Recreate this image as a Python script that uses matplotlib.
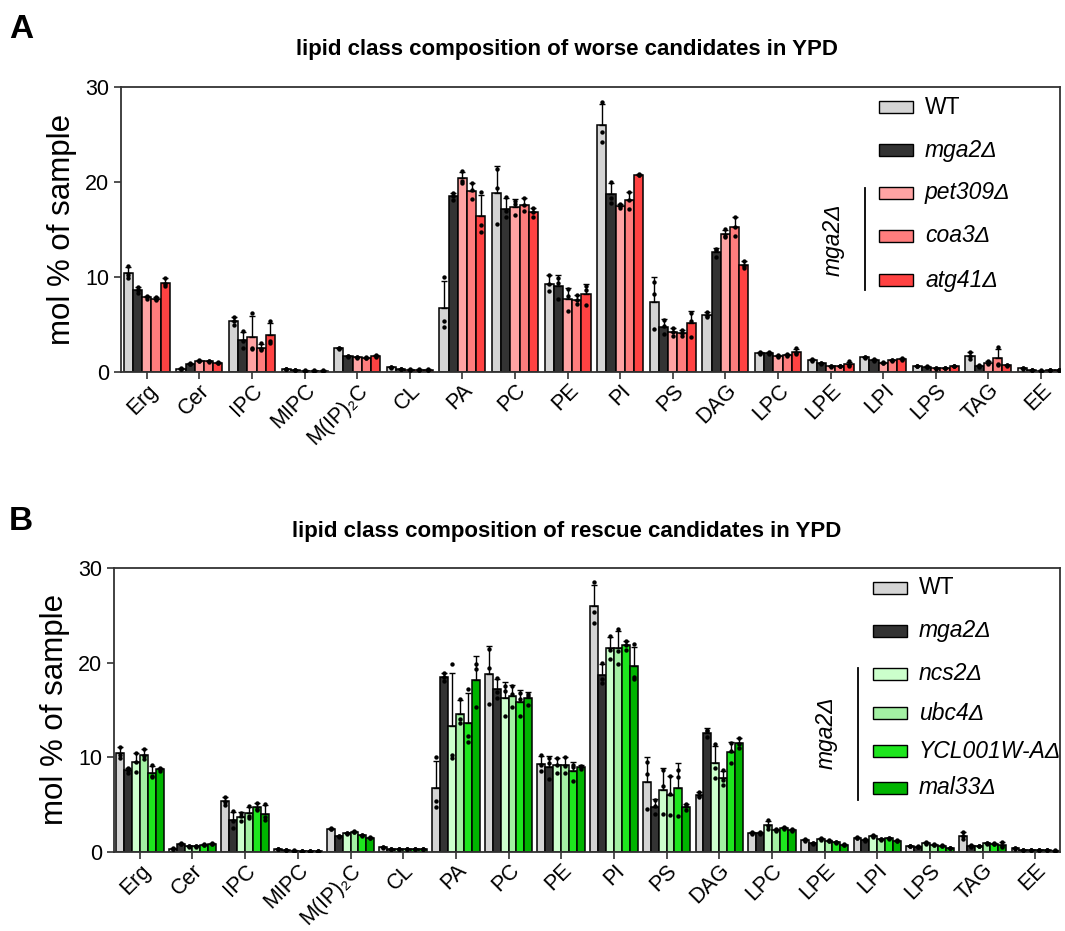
import numpy as np
import matplotlib
matplotlib.use("Agg")
import matplotlib.pyplot as plt
from matplotlib.patches import Rectangle
from matplotlib.lines import Line2D

plt.rcParams['font.family'] = ['Liberation Sans', 'DejaVu Sans']

lipid_classes = ['Erg', 'Cer', 'IPC', 'MIPC', 'M(IP)\u2082C', 'CL', 'PA', 'PC', 'PE',
                 'PI', 'PS', 'DAG', 'LPC', 'LPE', 'LPI', 'LPS', 'TAG', 'EE']

# mol % of sample, three replicates per lipid class (same order as lipid_classes)
wt = [[11.1, 10.2, 9.9], [0.35, 0.3, 0.28], [5.8, 5.3, 4.95], [0.32, 0.3, 0.28],
      [2.55, 2.45, 2.35], [0.48, 0.45, 0.42], [10.0, 5.4, 4.7], [21.4, 19.4, 15.6],
      [10.2, 9.2, 8.5], [28.5, 25.3, 24.2], [9.5, 8.2, 4.5], [6.3, 5.9, 5.8],
      [2.1, 2.0, 1.9], [1.3, 1.2, 1.1], [1.6, 1.5, 1.4], [0.65, 0.6, 0.55],
      [2.1, 1.7, 1.3], [0.38, 0.35, 0.32]]
mga2 = [[8.9, 8.6, 8.3], [0.9, 0.85, 0.8], [4.3, 3.2, 2.55], [0.16, 0.15, 0.14],
        [1.7, 1.65, 1.6], [0.3, 0.28, 0.26], [18.9, 18.5, 18.1], [18.4, 16.9, 16.3],
        [9.9, 9.4, 7.7], [20.0, 18.3, 17.8], [5.5, 4.8, 3.95], [12.9, 12.8, 12.1],
        [2.05, 1.95, 1.85], [0.95, 0.9, 0.85], [1.3, 1.2, 1.1], [0.55, 0.5, 0.45],
        [0.7, 0.6, 0.5], [0.22, 0.2, 0.18]]

# worse candidates (mga2 background)
pet309 = [[8.0, 7.85, 7.7], [1.2, 1.15, 1.1], [6.2, 2.5, 2.4], [0.13, 0.12, 0.11],
          [1.55, 1.5, 1.45], [0.24, 0.22, 0.2], [21.2, 20.1, 19.9], [18.0, 17.7, 16.5],
          [8.7, 8.0, 6.4], [17.7, 17.5, 17.3], [4.6, 4.2, 3.8], [15.0, 14.3, 14.2],
          [1.75, 1.65, 1.55], [0.6, 0.55, 0.5], [1.0, 0.95, 0.9], [0.38, 0.35, 0.32],
          [1.1, 0.95, 0.8], [0.13, 0.12, 0.11]]
coa3 = [[7.85, 7.7, 7.55], [1.15, 1.1, 1.05], [3.0, 2.4, 2.25], [0.13, 0.12, 0.11],
        [1.5, 1.45, 1.4], [0.24, 0.22, 0.2], [19.9, 19.2, 18.2], [18.3, 17.6, 16.9],
        [8.1, 7.6, 7.1], [19.0, 18.1, 17.2], [4.4, 4.1, 3.8], [16.3, 15.3, 14.3],
        [1.9, 1.8, 1.7], [0.65, 0.6, 0.55], [1.25, 1.2, 1.15], [0.43, 0.4, 0.37],
        [2.6, 0.85, 0.75], [0.16, 0.15, 0.14]]
atg41 = [[9.9, 9.3, 9.0], [1.0, 0.95, 0.9], [5.3, 3.2, 3.05], [0.13, 0.12, 0.11],
         [1.8, 1.7, 1.6], [0.24, 0.22, 0.2], [19.0, 15.5, 14.7], [17.3, 16.8, 16.3],
         [9.0, 8.6, 7.0], [20.9, 20.8, 20.7], [6.2, 5.4, 3.7], [11.7, 11.1, 10.95],
         [2.45, 2.0, 1.85], [1.1, 0.7, 0.6], [1.4, 1.3, 1.2], [0.65, 0.6, 0.55],
         [0.75, 0.7, 0.65], [0.16, 0.15, 0.14]]

# rescue candidates (mga2 background)
ncs2 = [[10.4, 9.5, 8.45], [0.6, 0.55, 0.5], [4.1, 3.8, 3.2], [0.13, 0.12, 0.11],
        [2.0, 1.95, 1.9], [0.32, 0.3, 0.28], [19.8, 10.2, 9.9], [17.5, 17.0, 14.4],
        [9.9, 9.2, 8.35], [22.8, 21.3, 20.4], [8.6, 6.9, 4.0], [11.4, 8.9, 7.75],
        [3.3, 2.7, 2.4], [1.4, 1.3, 1.2], [1.8, 1.7, 1.6], [1.0, 0.9, 0.8],
        [0.65, 0.6, 0.55], [0.16, 0.15, 0.14]]
ubc4 = [[10.9, 10.1, 9.75], [0.6, 0.55, 0.5], [4.8, 3.8, 3.55], [0.11, 0.1, 0.09],
        [2.15, 2.1, 2.05], [0.32, 0.3, 0.28], [16.2, 14.0, 13.6], [17.5, 16.7, 15.3],
        [10.0, 9.1, 8.35], [23.5, 21.2, 19.8], [8.0, 6.1, 3.9], [8.6, 7.6, 7.05],
        [2.4, 2.3, 2.2], [1.2, 1.15, 1.1], [1.35, 1.3, 1.25], [0.8, 0.75, 0.7],
        [0.95, 0.9, 0.85], [0.16, 0.15, 0.14]]
ycl001w_a = [[9.2, 8.0, 7.85], [0.8, 0.75, 0.7], [5.2, 4.5, 4.4], [0.11, 0.1, 0.09],
             [1.8, 1.75, 1.7], [0.32, 0.3, 0.28], [17.2, 12.2, 11.55], [16.8, 16.2, 14.4],
             [9.2, 8.95, 7.5], [22.3, 21.9, 21.35], [8.6, 7.9, 3.75], [11.5, 10.6, 9.4],
             [2.6, 2.5, 2.4], [1.05, 1.0, 0.95], [1.45, 1.4, 1.35], [0.7, 0.65, 0.6],
             [0.9, 0.85, 0.8], [0.16, 0.15, 0.14]]
mal33 = [[8.9, 8.7, 8.5], [0.9, 0.85, 0.8], [5.0, 3.7, 3.3], [0.11, 0.1, 0.09],
         [1.55, 1.5, 1.45], [0.32, 0.3, 0.28], [19.9, 19.3, 15.25], [16.7, 16.5, 15.55],
         [9.1, 9.0, 8.75], [22.0, 18.5, 18.3], [5.0, 4.85, 4.4], [12.0, 11.4, 10.95],
         [2.4, 2.3, 2.2], [0.8, 0.75, 0.7], [1.2, 1.15, 1.1], [0.43, 0.4, 0.37],
         [1.05, 0.6, 0.45], [0.13, 0.12, 0.11]]

strains_a = ['WT', 'mga2', 'pet309', 'coa3', 'atg41']
strains_b = ['WT', 'mga2', 'ncs2', 'ubc4', 'YCL001W-A', 'mal33']
colors_a = ['#d4d4d4', '#333333', '#ffa3a3', '#ff7d7d', '#ff4242']
colors_b = ['#d4d4d4', '#333333', '#ccffcc', '#a3f0a3', '#1ee61e', '#00b400']

W, H = 1065, 931
fig = plt.figure(figsize=(W / 100, H / 100), dpi=100)


def fig_xy(x, y):
    # pixel position (from top-left) -> figure fraction
    return x / W, 1 - y / H


def draw_panel(ax, series, colors, bar_w, xlim):
    n = len(series)
    idx = np.arange(len(lipid_classes))
    for j, (reps, col) in enumerate(zip(series, colors)):
        reps = np.array(reps)
        mean = reps.mean(axis=1)
        sd = reps.std(axis=1, ddof=1)
        xs = idx + (j - (n - 1) / 2) * bar_w
        ax.bar(xs, mean, width=bar_w, color=col, edgecolor='black', linewidth=1.1, zorder=2)
        ax.errorbar(xs, mean, yerr=[np.zeros_like(sd), sd], fmt='none', ecolor='black',
                    elinewidth=1.0, capsize=2.5, capthick=1.0, zorder=3)
        for k in range(reps.shape[1]):
            ax.scatter(xs, reps[:, k], s=10, color='black', zorder=4, linewidths=0)
    ax.set_xlim(*xlim)
    ax.set_ylim(0, 30)
    ax.set_yticks([0, 10, 20, 30])
    ax.set_xticks(idx)
    ax.set_xticklabels(lipid_classes, rotation=45, ha='right', rotation_mode='anchor')
    ax.tick_params(axis='both', labelsize=15.5, direction='out', length=5, width=1.2,
                   color='#333333')
    ax.tick_params(axis='x', pad=1, labelsize=15.5)
    for sp in ax.spines.values():
        sp.set_linewidth(1.3)
        sp.set_color('#333333')
    ax.set_ylabel('mol % of sample', fontsize=22.5, labelpad=6)


def draw_legend(labels, colors, ys, patch_x, text_x, bracket_x, bracket_y, group_y):
    for lab, col, y in zip(labels, colors, ys):
        x0, y0 = fig_xy(patch_x, y + 6)
        rw, rh = 34 / W, 12 / H
        fig.add_artist(Rectangle((x0, y0), rw, rh, transform=fig.transFigure,
                                 facecolor=col, edgecolor='black', linewidth=1.0))
        tx, ty = fig_xy(text_x, y)
        if lab == 'WT':
            fig.text(tx, ty, lab, fontsize=16.5, va='center', ha='left')
        else:
            fig.text(tx, ty, lab + '\u0394', fontsize=16.5, va='center', ha='left',
                     style='italic')
    bx, by0 = fig_xy(bracket_x, bracket_y[0])
    _, by1 = fig_xy(bracket_x, bracket_y[1])
    fig.add_artist(Line2D([bx, bx], [by0, by1], transform=fig.transFigure,
                          color='black', linewidth=1.3))
    gx, gy = fig_xy(bracket_x - 32, group_y)
    fig.text(gx, gy, 'mga2\u0394', fontsize=16.5, style='italic', rotation=90,
             ha='center', va='center')


# panel A
ax_a = fig.add_axes([121 / W, 1 - 371.7 / H, (1060 - 121) / W, (371.7 - 87.3) / H])
draw_panel(ax_a, [wt, mga2, pet309, coa3, atg41], colors_a, 0.175, (-0.49, 17.36))
fig.text(*fig_xy(567, 50), 'lipid class composition of worse candidates in YPD',
         fontsize=16, fontweight='bold', ha='center', va='center')
fig.text(*fig_xy(9, 30), 'A', fontsize=24, fontweight='bold', ha='left', va='center')
draw_legend(strains_a, colors_a, [107, 150, 193, 236, 280], 879, 925, 865, (188, 290), 240)

# panel B
ax_b = fig.add_axes([114 / W, 1 - 851.7 / H, (1060 - 114) / W, (851.7 - 568) / H])
draw_panel(ax_b, [wt, mga2, ncs2, ubc4, ycl001w_a, mal33], colors_b, 0.15, (-0.49, 17.47))
fig.text(*fig_xy(567, 531), 'lipid class composition of rescue candidates in YPD',
         fontsize=16, fontweight='bold', ha='center', va='center')
fig.text(*fig_xy(9, 521), 'B', fontsize=24, fontweight='bold', ha='left', va='center')
draw_legend(strains_b, colors_b, [588, 631, 674, 713, 751, 788], 873, 919, 858, (668, 800), 733)

fig.savefig('out.png', dpi=100)
